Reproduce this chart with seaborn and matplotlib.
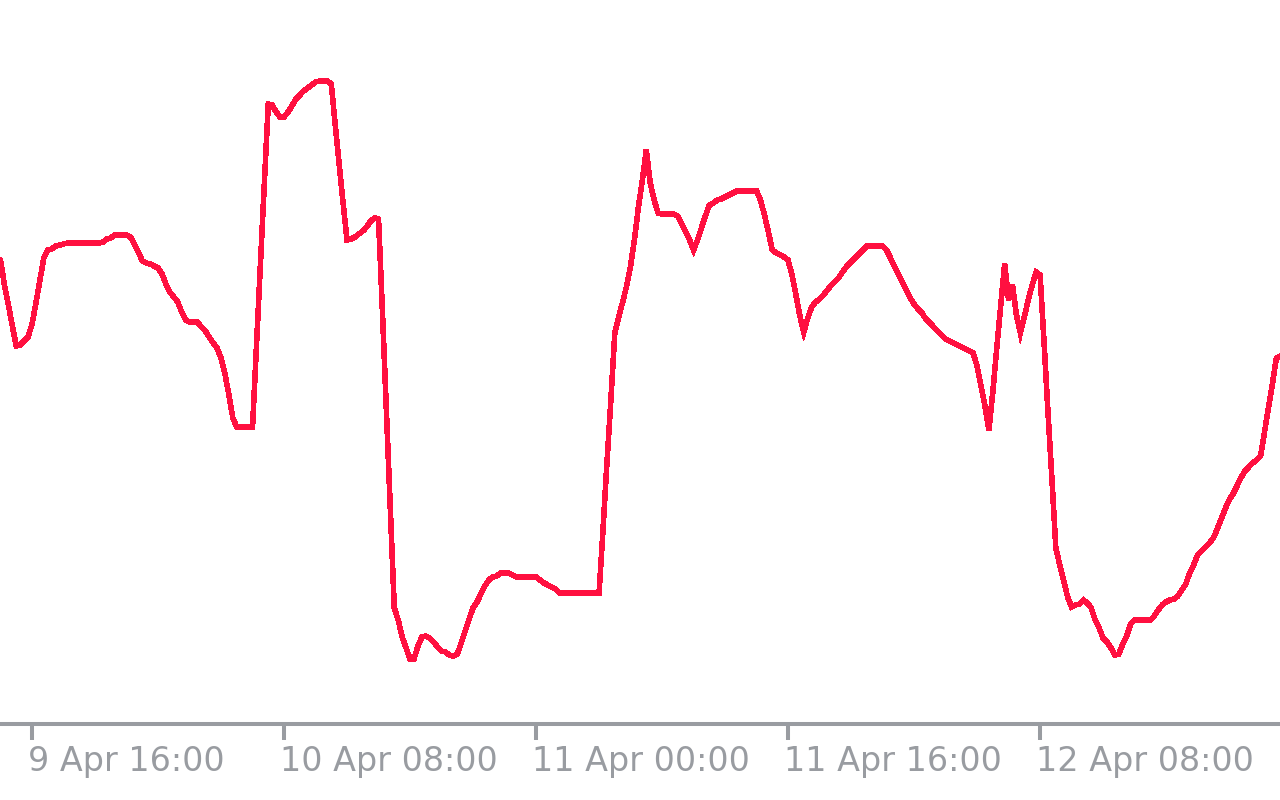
import pandas as pd
import seaborn as sns
import matplotlib.pyplot as plt
import matplotlib.dates as mdates
from matplotlib.transforms import ScaledTranslation

# 15 minute samples starting 9 Apr 14:00 (no y axis on the chart, values are arbitrary levels)
start = pd.Timestamp("2024-04-09 14:00")
values = [
    540, 515, 495, 474, 454, 455, 459, 463, 476, 497,
    520, 542, 550, 551, 554, 555, 556, 557, 557, 557,
    557, 557, 557, 557, 557, 557, 558, 561, 562, 565,
    565, 565, 565, 563, 556, 548, 539, 537, 536, 534,
    532, 526, 516, 508, 503, 498, 488, 480, 478, 478,
    478, 473, 469, 463, 457, 452, 442, 426, 405, 382,
    373, 373, 373, 373, 373, 455, 538, 617, 696, 695,
    688, 683, 683, 688, 694, 701, 705, 709, 712, 715,
    718, 719, 719, 719, 716, 675, 636, 597, 560, 561,
    563, 566, 569, 573, 579, 582, 581, 487, 388, 290,
    192, 180, 163, 152, 141, 141, 154, 163, 164, 162,
    158, 153, 149, 148, 145, 144, 146, 157, 169, 181,
    192, 198, 206, 214, 220, 223, 224, 227, 227, 227,
    225, 223, 223, 223, 223, 223, 223, 220, 217, 215,
    213, 211, 207, 207, 207, 207, 207, 207, 207, 207,
    207, 207, 207, 270, 337, 400, 467, 483, 498, 514,
    534, 561, 593, 620, 650, 617, 600, 587, 586, 586,
    586, 586, 584, 576, 568, 560, 550, 560, 572, 584,
    595, 597, 600, 601, 603, 605, 607, 609, 609, 609,
    609, 609, 609, 600, 585, 568, 550, 547, 545, 543,
    540, 525, 505, 484, 468, 482, 493, 498, 501, 505,
    510, 515, 519, 523, 529, 534, 538, 542, 546, 550,
    554, 554, 554, 554, 554, 550, 542, 534, 526, 518,
    510, 502, 496, 491, 487, 481, 477, 473, 469, 465,
    461, 459, 457, 455, 453, 451, 449, 447, 434, 414,
    394, 370, 408, 452, 494, 536, 500, 515, 485, 467,
    483, 500, 515, 528, 525, 459, 388, 322, 252, 235,
    219, 203, 193, 195, 196, 200, 197, 192, 180, 172,
    162, 158, 152, 145, 146, 156, 164, 176, 180, 180,
    180, 180, 180, 184, 190, 195, 198, 200, 201, 204,
    210, 216, 227, 235, 245, 249, 253, 257, 262, 271,
    281, 291, 300, 306, 314, 322, 329, 333, 337, 340,
    344, 368, 392, 416, 442, 444,
]
times = pd.date_range(start, periods=len(values), freq="15min")
tick_times = pd.to_datetime(["2024-04-09 16:00", "2024-04-10 08:00", "2024-04-11 00:00",
                             "2024-04-11 16:00", "2024-04-12 08:00"])
tick_labels = [f"{t.day} {t:%b %H:%M}" for t in tick_times]

line_color = "#ff1040"
axis_color = "#999ca1"

sns.set_style("white")
plt.rcParams["font.family"] = ["DejaVu Sans"]

fig = plt.figure(figsize=(12.8, 8), dpi=100)
ax = fig.add_axes([0, 0.095, 1, 0.905])

df = pd.DataFrame({"time": times, "value": values})
sns.lineplot(data=df, x="time", y="value", ax=ax, color=line_color,
             linewidth=3.3, antialiased=False, solid_joinstyle="miter")

ax.set_xlim(start - pd.Timedelta(minutes=2), start + pd.Timedelta(minutes=4874))
ax.set_ylim(76, 800)

ax.set_xticks(mdates.date2num(tick_times.to_pydatetime()), tick_labels)
ax.set_yticks([])
ax.set_xlabel("")
ax.set_ylabel("")
ax.tick_params(axis="x", bottom=True, labelbottom=True, direction="out",
               length=11.5, width=2.9, color=axis_color, labelcolor=axis_color,
               labelsize=24, pad=3.5)
for lab in ax.get_xticklabels():
    lab.set_horizontalalignment("left")
    lab.set_transform(lab.get_transform() + ScaledTranslation(-3 / 72, 0, fig.dpi_scale_trans))

for side in ["top", "left", "right"]:
    ax.spines[side].set_visible(False)
ax.spines["bottom"].set_color(axis_color)
ax.spines["bottom"].set_linewidth(2.9)

fig.savefig("out.png", dpi=100, facecolor="white")
